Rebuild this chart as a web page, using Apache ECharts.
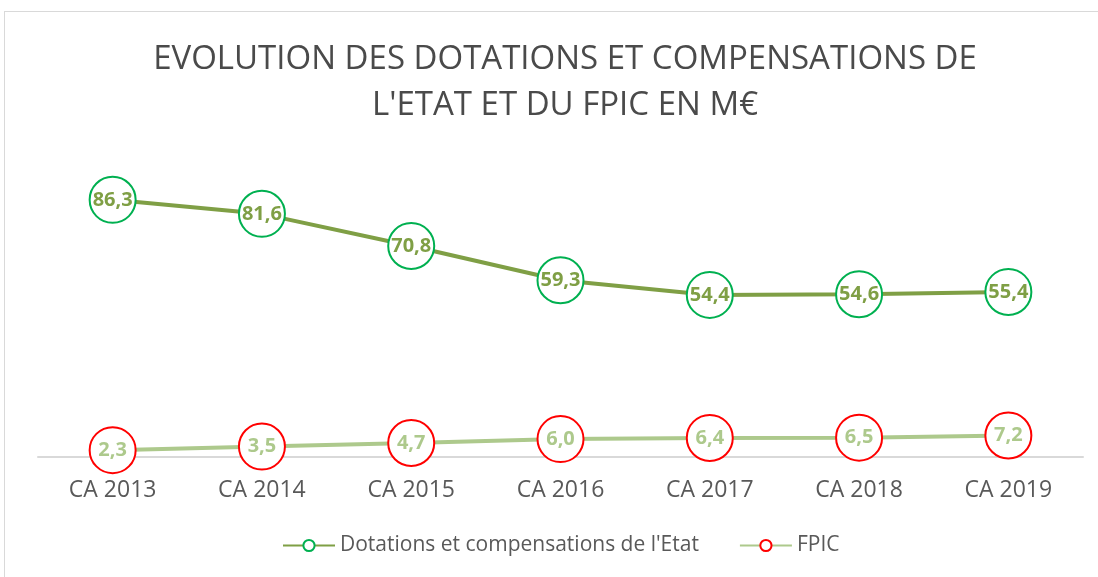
<!DOCTYPE html>
<html>
<head>
<meta charset="utf-8">
<script src="https://cdn.jsdelivr.net/npm/echarts@6/dist/echarts.min.js"></script>
<style>
  html, body { margin: 0; padding: 0; background: #fff; overflow: hidden; }
  #frame {
    position: absolute; left: 4px; top: 11px; width: 1110px; height: 590px;
    border: 1px solid #d9d9d9; box-sizing: border-box;
  }
  #chart { position: absolute; left: 0; top: 0; width: 1098px; height: 577px; }
</style>
</head>
<body>
<div id="frame"></div>
<div id="chart"></div>
<script>
const categories = ['CA 2013', 'CA 2014', 'CA 2015', 'CA 2016', 'CA 2017', 'CA 2018', 'CA 2019']
const dotations = [86.3, 81.6, 70.8, 59.3, 54.4, 54.6, 55.4]
const fpic = [2.3, 3.5, 4.7, 6.0, 6.4, 6.5, 7.2]

const darkGreen = '#7f9f45'
const lightGreen = '#adc98c'

const fmt = (p) => p.value.toFixed(1).replace('.', ',')

const chart = echarts.init(document.getElementById('chart'))

chart.setOption({
  animation: false,
  title: {
    text: "EVOLUTION DES DOTATIONS ET COMPENSATIONS DE\nL'ETAT ET DU FPIC EN M€",
    left: 560,
    textAlign: 'center',
    top: 32,
    textStyle: {
      fontFamily: 'Open Sans',
      fontWeight: 'normal',
      fontSize: 33,
      lineHeight: 46,
      color: '#4a4a4a',
    },
  },
  legend: {
    bottom: 16,
    left: 277,
    itemWidth: 52,
    itemHeight: 14,
    itemGap: 40,
    textStyle: {
      fontFamily: 'Open Sans',
      fontSize: 21,
      color: '#595959',
    },
    data: ["Dotations et compensations de l'Etat", 'FPIC'],
  },
  grid: {
    left: 38,
    right: 15,
    top: 159,
    bottom: 120,
    containLabel: false,
  },
  xAxis: {
    type: 'category',
    data: categories,
    boundaryGap: true,
    axisLine: { lineStyle: { color: '#d9d9d9', width: 2 } },
    axisTick: { show: false },
    axisLabel: {
      margin: 22,
      fontFamily: 'Open Sans',
      fontSize: 23,
      color: '#595959',
    },
  },
  yAxis: {
    type: 'value',
    min: 0,
    max: 100,
    show: false,
    splitLine: { show: false },
  },
  series: [
    {
      name: "Dotations et compensations de l'Etat",
      type: 'line',
      data: dotations,
      symbol: 'circle',
      symbolSize: 46,
      lineStyle: { color: darkGreen, width: 4 },
      itemStyle: { color: '#fff', borderColor: '#00b050', borderWidth: 2 },
      label: {
        show: true,
        position: 'inside',
        formatter: fmt,
        fontFamily: 'Open Sans',
        fontWeight: 'bold',
        fontSize: 20,
        color: darkGreen,
      },
      z: 3,
    },
    {
      name: 'FPIC',
      type: 'line',
      data: fpic,
      symbol: 'circle',
      symbolSize: 46,
      lineStyle: { color: lightGreen, width: 4 },
      itemStyle: { color: '#fff', borderColor: '#ff0000', borderWidth: 2 },
      label: {
        show: true,
        position: 'inside',
        formatter: fmt,
        fontFamily: 'Open Sans',
        fontWeight: 'bold',
        fontSize: 20,
        color: lightGreen,
      },
      z: 3,
    },
  ],
})
</script>
</body>
</html>
